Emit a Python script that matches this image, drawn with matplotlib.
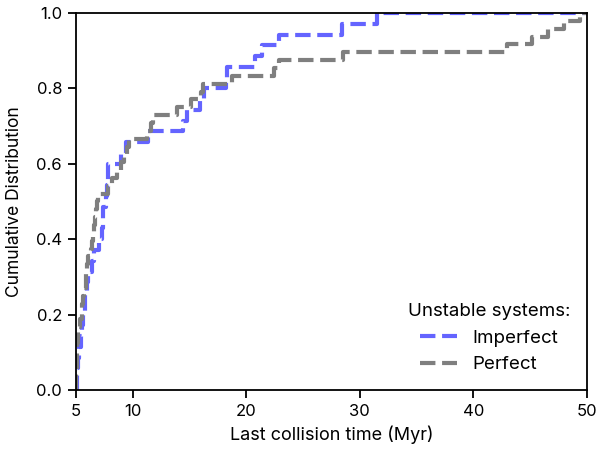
import numpy as np
import matplotlib
matplotlib.use("Agg")
import matplotlib.pyplot as plt

plt.rcParams['font.family'] = ['Inter', 'DejaVu Sans']

# Last collision times (Myr)
imperfect_times = [5.05, 5.1, 5.2, 5.3, 5.4, 5.55, 5.6, 5.75, 5.8, 6.0,
                   6.1, 6.4, 6.6, 7.0, 7.3, 7.35, 7.4, 7.6, 7.7, 7.8,
                   7.85, 9.0, 9.4, 11.3, 14.4, 14.8, 15.9, 16.3, 18.2, 18.3,
                   20.8, 21.4, 22.9, 28.4, 31.5]
perfect_times = [5.02, 5.04, 5.05, 5.07, 5.1, 5.12, 5.15, 5.2, 5.35, 5.5,
                 5.55, 5.65, 5.7, 5.85, 5.9, 6.0, 6.1, 6.3, 6.45, 6.5,
                 6.6, 6.7, 6.8, 6.85, 6.9, 7.8, 8.2, 8.6, 9.0, 9.2,
                 9.5, 9.7, 11.25, 11.6, 11.8, 13.9, 15.1, 16.0, 16.2, 18.7,
                 22.4, 22.9, 28.5, 42.95, 45.2, 46.6, 48.0, 49.4]

series_names = ["Imperfect", "Perfect"]
series_colors = ["#6464ff", "#7f7f7f"]
x_ticks = [5, 10, 20, 30, 40, 50]
y_ticks = [0.0, 0.2, 0.4, 0.6, 0.8, 1.0]
x_min, x_max = 5, 50

fig = plt.figure(figsize=(5.97, 4.53), dpi=100)
ax = fig.add_axes([0.1273, 0.1391, 0.9832 - 0.1273, 0.9713 - 0.1391])

for times, name, color in zip([imperfect_times, perfect_times], series_names, series_colors):
    t = np.sort(np.asarray(times))
    n = len(t)
    cdf = np.arange(1, n + 1) / n
    xs = np.concatenate([[x_min], t, [x_max]])
    ys = np.concatenate([[0.0], cdf, [1.0]])
    ax.step(xs, ys, where='post', color=color, lw=3, ls='--', label=name)

ax.set_xlim(x_min, x_max)
ax.set_ylim(0, 1.0)
ax.set_xticks(x_ticks)
ax.set_xticklabels([str(v) for v in x_ticks])
ax.set_yticks(y_ticks)
ax.set_yticklabels([f"{v:.1f}" for v in y_ticks])
ax.tick_params(labelsize=12, length=6, width=1.3, direction='out', pad=4)
for s in ax.spines.values():
    s.set_linewidth(1.3)

ax.set_xlabel("Last collision time (Myr)", fontsize=13, labelpad=5)
ax.set_ylabel("Cumulative Distribution", fontsize=12.5, labelpad=9)

leg = ax.legend(title="Unstable systems:", loc='lower right', frameon=False,
                fontsize=13.5, title_fontsize=13.5, handlelength=2.0,
                borderaxespad=0.5)

fig.savefig("out.png", dpi=100)
